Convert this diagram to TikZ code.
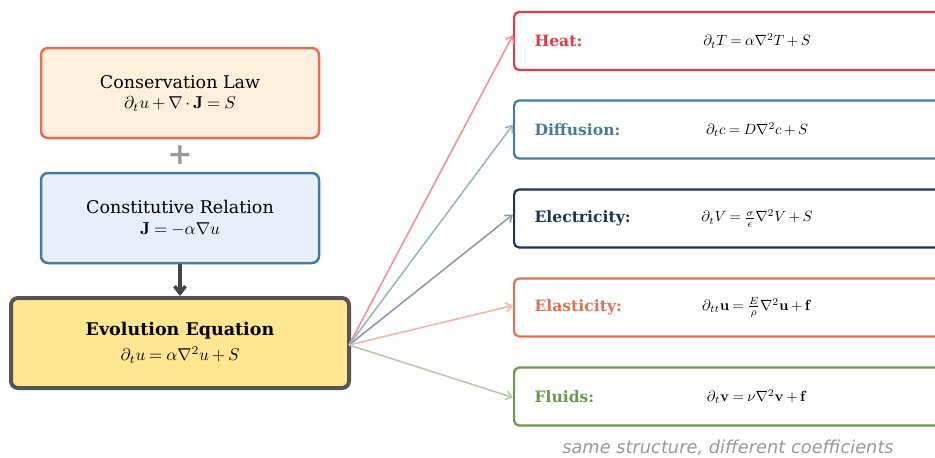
\documentclass[tikz,border=0pt]{standalone}
\usepackage{graphicx}
\usepackage[no-math]{fontspec}
\setmainfont{DejaVu Serif}
\newfontfamily\capfont{DejaVu Sans}
\usetikzlibrary{arrows.meta}
\definecolor{cRed}{HTML}{E63946}
\definecolor{cBlue}{HTML}{457B9D}
\definecolor{cNavy}{HTML}{1D3557}
\definecolor{cOrange}{HTML}{E76F51}
\definecolor{cGreen}{HTML}{6A994E}
\definecolor{fOrange}{HTML}{FFF0DE}
\definecolor{fBlue}{HTML}{E7EFFB}
\definecolor{fYellow}{HTML}{FFE690}
\definecolor{cDark}{HTML}{555555}
\newcommand{\tightmath}{\thickmuskip=4mu\medmuskip=3mu\relax}
\newcommand{\eqbig}[2]{\scalebox{#1}{\fontsize{10}{12}\selectfont\tightmath$#2$}}
\tikzset{
  leftbox/.style={draw, rounded corners=7pt, line width=2.5pt, minimum width=278pt, minimum height=90pt, inner sep=0pt},
  boxtitle/.style={font=\fontsize{17.5}{21}\selectfont, inner sep=0pt},
  boxmath/.style={inner sep=0pt},
  appbox/.style={draw, rounded corners=5pt, line width=2.2pt, fill=white, minimum width=440pt, minimum height=58pt, anchor=west, inner sep=0pt},
  applabel/.style={anchor=west, font=\fontsize{15.6}{18}\selectfont\bfseries},
  appeq/.style={inner sep=0pt},
  fan/.style={line width=1.6pt, -{Straight Barb[length=6pt,width=9pt]}}
}
\begin{document}
\begin{tikzpicture}[x=1pt,y=-1pt]
\clip (0,0) rectangle (935,458);
\fill[white] (0,0) rectangle (935,458);
% left column
\node[leftbox, draw=cOrange, fill=fOrange] (cons) at (180,93) {};
\node[boxtitle] (consT) at (180,82) {Conservation Law};
\node[boxmath] (consM) at (180,104) {\eqbig{1.72}{\partial_t u+\nabla\cdot\mathbf{J}=S}};
\node[text=gray!80, font=\fontsize{30}{30}\selectfont\bfseries] (plus) at (180,155) {+};
\node[leftbox, draw=cBlue, fill=fBlue] (const) at (180,218) {};
\node[boxtitle] (constT) at (180,207) {Constitutive Relation};
\node[boxmath] (constM) at (180,229) {\eqbig{1.72}{\mathbf{J}=-\alpha\nabla u}};
\node[leftbox, draw=cDark, fill=fYellow, line width=4pt, minimum width=338pt] (evo) at (180,343) {};
\node[boxtitle, font=\fontsize{17.5}{21}\selectfont\bfseries] (evoT) at (180,331) {Evolution Equation};
\node[boxmath] (evoM) at (180,355) {\eqbig{1.71}{\partial_t u=\alpha\nabla^2 u+S}};
\draw[line width=3.5pt, draw=cDark!80!black, -{Straight Barb[length=7pt,width=11pt]}] (const.south) -- (evo.north);
% right column
\node[appbox, draw=cRed] (heat) at (513,41) {};
\node[appbox, draw=cBlue] (diff) at (513,129.5) {};
\node[appbox, draw=cNavy] (elec) at (513,218.5) {};
\node[appbox, draw=cOrange] (elas) at (513,307.5) {};
\node[appbox, draw=cGreen] (flu) at (513,396.5) {};
\node[applabel, text=cRed] (heatl) at (531,41) {Heat:};
\node[applabel, text=cBlue] (diffl) at (531,129.5) {Diffusion:};
\node[applabel, text=cNavy] (elecl) at (531,218.5) {Electricity:};
\node[applabel, text=cOrange] (elasl) at (531,307.5) {Elasticity:};
\node[applabel, text=cGreen] (flul) at (531,396.5) {Fluids:};
\node[appeq] (heateq) at (757,41) {\eqbig{1.48}{\partial_t T=\alpha\nabla^2 T+S}};
\node[appeq] (diffeq) at (757,129.5) {\eqbig{1.48}{\partial_t c=D\nabla^2 c+S}};
\node[appeq] (eleceq) at (757,218.5) {\eqbig{1.48}{\partial_t V=\frac{\sigma}{\epsilon}\nabla^2 V+S}};
\node[appeq] (elaseq) at (757,307.5) {\eqbig{1.48}{\partial_{tt}\mathbf{u}=\frac{E}{\rho}\nabla^2\mathbf{u}+\mathbf{f}}};
\node[appeq] (flueq) at (757,396.5) {\eqbig{1.48}{\partial_t\mathbf{v}=\nu\nabla^2\mathbf{v}+\mathbf{f}}};
% fan arrows
\coordinate (src) at ([xshift=-2pt,yshift=-2pt]evo.east);
\draw[fan, draw=cRed!55] (src) -- ([yshift=6pt]heat.west);
\draw[fan, draw=cBlue!55] (src) -- ([yshift=5pt]diff.west);
\draw[fan, draw=cNavy!50] (src) -- ([yshift=4pt]elec.west);
\draw[fan, draw=cOrange!50] (src) -- ([yshift=2pt]elas.west);
\draw[fan, draw=cGreen!50] (src) -- ([yshift=-1pt]flu.west);
\node[text=gray!80, font=\capfont\itshape\fontsize{17.8}{20}\selectfont] (cap) at (728,448) {same structure, different coefficients};
\end{tikzpicture}
\end{document}
